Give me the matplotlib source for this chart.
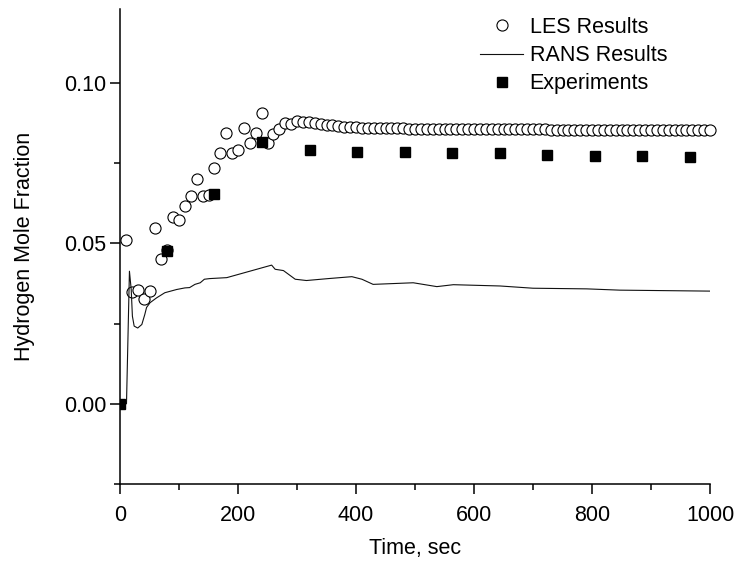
import matplotlib
matplotlib.use("Agg")
import matplotlib.pyplot as plt
from matplotlib.ticker import MultipleLocator, FormatStrFormatter

plt.rcParams['font.family'] = ['Liberation Sans', 'DejaVu Sans']

# LES results (open circles)
les_time = [10, 20, 30, 40, 50, 60, 70, 80, 90, 100,
            110, 120, 130, 140, 150, 160, 170, 180, 190, 200,
            210, 220, 230, 240, 250, 260, 270, 280, 290, 300,
            310, 320, 330, 340, 350, 360, 370, 380, 390, 400,
            410, 420, 430, 440, 450, 460, 470, 480, 490, 500,
            510, 520, 530, 540, 550, 560, 570, 580, 590, 600,
            610, 620, 630, 640, 650, 660, 670, 680, 690, 700,
            710, 720, 730, 740, 750, 760, 770, 780, 790, 800,
            810, 820, 830, 840, 850, 860, 870, 880, 890, 900,
            910, 920, 930, 940, 950, 960, 970, 980, 990, 1000]
les_frac = [0.0510, 0.0349, 0.0356, 0.0327, 0.0350, 0.0548, 0.0452, 0.0478, 0.0581, 0.0572,
            0.0617, 0.0648, 0.0700, 0.0648, 0.0652, 0.0735, 0.0780, 0.0843, 0.0782, 0.0790,
            0.0860, 0.0813, 0.0843, 0.0906, 0.0813, 0.0840, 0.0856, 0.0875, 0.0872, 0.0881,
            0.0879, 0.0878, 0.0874, 0.0872, 0.0870, 0.0868, 0.0865, 0.0862, 0.0861, 0.0861,
            0.0860, 0.0860, 0.0859, 0.0859, 0.0859, 0.0858, 0.0858, 0.0858, 0.0857, 0.0857,
            0.0857, 0.0857, 0.0856, 0.0856, 0.0856, 0.0856, 0.0856, 0.0855, 0.0855, 0.0855,
            0.0855, 0.0855, 0.0855, 0.0855, 0.0855, 0.0855, 0.0855, 0.0855, 0.0855, 0.0855,
            0.0855, 0.0855, 0.0854, 0.0854, 0.0854, 0.0854, 0.0854, 0.0854, 0.0854, 0.0854,
            0.0854, 0.0854, 0.0854, 0.0854, 0.0854, 0.0853, 0.0853, 0.0853, 0.0853, 0.0853,
            0.0853, 0.0853, 0.0853, 0.0853, 0.0853, 0.0853, 0.0853, 0.0853, 0.0853, 0.0853]

# RANS results (line)
rans_time = [0, 11, 16, 19, 21, 24, 30, 37, 42, 45, 51, 62, 76, 96, 110, 118, 127,
             136, 143, 152, 181, 257, 263, 277, 297, 316, 353, 393, 410, 429,
             497, 537, 565, 644, 700, 791, 847, 1000]
rans_frac = [0.0, 0.0, 0.0413, 0.0356, 0.0273, 0.0242, 0.0236, 0.0247, 0.0278, 0.0300,
             0.0315, 0.0330, 0.0346, 0.0356, 0.0361, 0.0362, 0.0372,
             0.0377, 0.0388, 0.0390, 0.0393, 0.0432, 0.0419, 0.0415, 0.0388, 0.0384,
             0.0390, 0.0396, 0.0388, 0.0372,
             0.0377, 0.0365, 0.0371, 0.0367, 0.0360, 0.0358, 0.0354, 0.0351]

# Experiments (filled squares)
exp_time = [0, 80, 160, 241, 322, 402, 483, 563, 644, 724, 805, 885, 966]
exp_frac = [0.0, 0.0476, 0.0654, 0.0815, 0.0791, 0.0786, 0.0786, 0.0782,
            0.0780, 0.0775, 0.0773, 0.0773, 0.0768]

FS = 15.5

fig = plt.figure(figsize=(7.37, 5.61), dpi=100)
ax = fig.add_axes([120/737, 1 - 484/561, 590/737, 475/561])

ax.plot(les_time, les_frac, linestyle='none', marker='o', markersize=8,
        markerfacecolor='white', markeredgecolor='black', markeredgewidth=0.8,
        label='LES Results', clip_on=False)
ax.plot(rans_time, rans_frac, color='#111111', linewidth=0.8, label='RANS Results')
ax.plot(exp_time, exp_frac, linestyle='none', marker='s', markersize=7.5,
        color='black', label='Experiments')

ax.set_xlim(0, 1000)
ax.set_ylim(-0.025, 0.123)

ax.xaxis.set_major_locator(MultipleLocator(200))
ax.xaxis.set_minor_locator(MultipleLocator(100))
ax.yaxis.set_major_locator(MultipleLocator(0.05))
ax.yaxis.set_minor_locator(MultipleLocator(0.025))
ax.yaxis.set_major_formatter(FormatStrFormatter('%.2f'))

for s in ['top', 'right']:
    ax.spines[s].set_visible(False)
for s in ['left', 'bottom']:
    ax.spines[s].set_linewidth(1.1)
    ax.spines[s].set_zorder(5)

ax.tick_params(which='major', direction='out', length=7, width=1.1, labelsize=FS)
ax.tick_params(which='minor', direction='out', length=4, width=1.1)
ax.tick_params(axis='x', which='major', pad=8)
ax.tick_params(axis='y', which='major', pad=3)

ax.set_xlabel('Time, sec', fontsize=FS, labelpad=9)
ax.set_ylabel('Hydrogen Mole Fraction', fontsize=FS, labelpad=21)

leg = ax.legend(loc='upper left', bbox_to_anchor=(480/737, 1 - 17/561),
                bbox_transform=fig.transFigure, frameon=False, fontsize=FS,
                borderpad=0, borderaxespad=0, handlelength=2.0,
                handletextpad=0.3, labelspacing=0.33)

fig.savefig('out.png', dpi=100)
